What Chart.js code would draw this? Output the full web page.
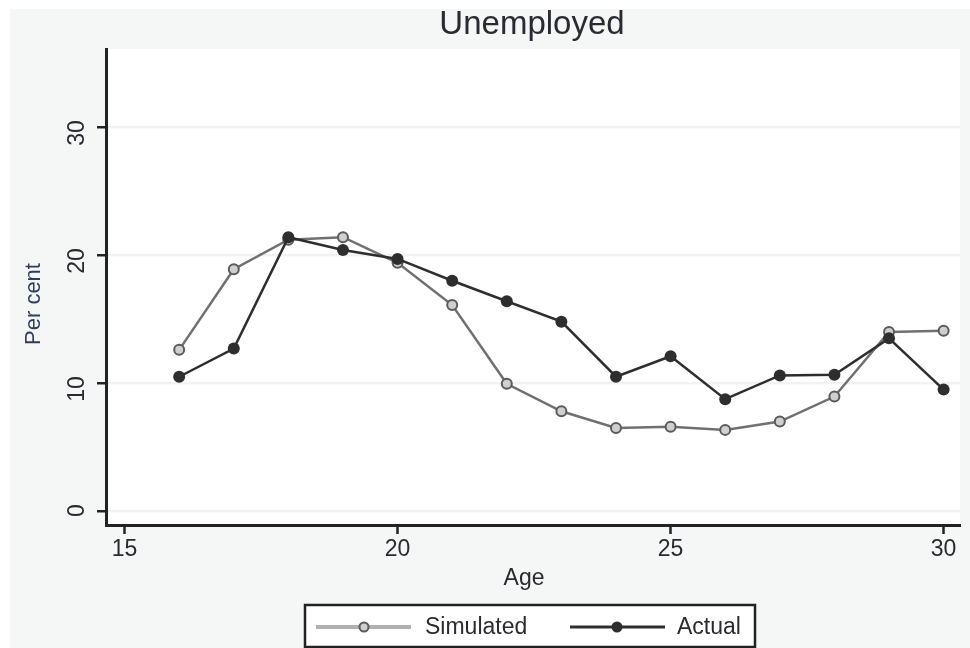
<!DOCTYPE html>
<html>
<head>
<meta charset="utf-8">
<title>Unemployed</title>
<script src="https://cdn.jsdelivr.net/npm/chart.js@4.4.1/dist/chart.umd.min.js"></script>
<style>
  html, body { margin: 0; padding: 0; background: #ffffff; }
  #wrap { width: 970px; height: 648px; }
</style>
</head>
<body>
<div id="wrap"><canvas id="unemployedChart" width="970" height="648"></canvas></div>
<script>
// data
const ages = [16, 17, 18, 19, 20, 21, 22, 23, 24, 25, 26, 27, 28, 29, 30];
const simulated = [12.6, 18.9, 21.2, 21.4, 19.4, 16.1, 9.95, 7.8, 6.5, 6.6, 6.35, 7.0, 8.95, 14.0, 14.1];
const actual = [10.5, 12.7, 21.4, 20.4, 19.7, 18.0, 16.4, 14.8, 10.5, 12.1, 8.75, 10.6, 10.65, 13.5, 9.5];
const xTicks = [15, 20, 25, 30];
const yTicks = [0, 10, 20, 30];

const fontFamily = "'Liberation Sans', Arial, sans-serif";
const bgGrey = '#f5f7f6';
const axisColor = '#222222';
const textColor = '#2a2a33';

const simLine = '#707070';
const simPoint = '#5a5a5a';
const actLine = '#2e2e2e';

function toXY(ys) {
  return ages.map((a, i) => ({x: a, y: ys[i]}));
}

// background panels, titles, rotated y labels and the legend box
const decorations = {
  id: 'decorations',
  beforeDraw(chart) {
    const ctx = chart.ctx;
    const area = chart.chartArea;
    ctx.save();
    ctx.fillStyle = '#ffffff';
    ctx.fillRect(0, 0, chart.width, chart.height);
    ctx.fillStyle = bgGrey;
    ctx.fillRect(10, 9, chart.width - 10, chart.height - 9);
    ctx.fillStyle = '#ffffff';
    ctx.fillRect(area.left, area.top, area.right - area.left, area.bottom - area.top);
    ctx.restore();
  },
  afterDraw(chart) {
    const ctx = chart.ctx;
    const yScale = chart.scales.y;
    ctx.save();
    ctx.fillStyle = textColor;

    // title
    ctx.font = `33px ${fontFamily}`;
    ctx.textAlign = 'center';
    ctx.textBaseline = 'alphabetic';
    ctx.fillText('Unemployed', 532, 34);

    // x axis title
    ctx.font = `23px ${fontFamily}`;
    ctx.fillText('Age', 524, 585);

    // y tick labels, rotated
    ctx.font = `23px ${fontFamily}`;
    ctx.textBaseline = 'middle';
    yScale.ticks.forEach(t => {
      const py = yScale.getPixelForValue(t.value);
      ctx.save();
      ctx.translate(78, py - 7);
      ctx.rotate(-Math.PI / 2);
      ctx.textAlign = 'right';
      ctx.fillText(String(t.value), 0, 0);
      ctx.restore();
    });

    // y axis title
    ctx.save();
    ctx.font = `22px ${fontFamily}`;
    ctx.fillStyle = '#2f3d5a';
    ctx.translate(34, 304);
    ctx.rotate(-Math.PI / 2);
    ctx.textAlign = 'center';
    ctx.fillText('Per cent', 0, 0);
    ctx.restore();

    // legend
    const ly = 627;
    ctx.fillStyle = '#ffffff';
    ctx.fillRect(305, 605, 450, 42);
    ctx.strokeStyle = axisColor;
    ctx.lineWidth = 2.5;
    ctx.strokeRect(305, 605, 450, 42);

    ctx.strokeStyle = '#b0b0b0';
    ctx.lineWidth = 4;
    ctx.beginPath();
    ctx.moveTo(316, ly);
    ctx.lineTo(411, ly);
    ctx.stroke();
    ctx.beginPath();
    ctx.arc(364, ly, 4.5, 0, Math.PI * 2);
    ctx.fillStyle = '#cfcfcf';
    ctx.fill();
    ctx.strokeStyle = simPoint;
    ctx.lineWidth = 2;
    ctx.stroke();

    ctx.strokeStyle = actLine;
    ctx.lineWidth = 3;
    ctx.beginPath();
    ctx.moveTo(570, ly);
    ctx.lineTo(665, ly);
    ctx.stroke();
    ctx.beginPath();
    ctx.arc(617, ly, 5.5, 0, Math.PI * 2);
    ctx.fillStyle = actLine;
    ctx.fill();

    ctx.fillStyle = textColor;
    ctx.font = `23px ${fontFamily}`;
    ctx.textAlign = 'left';
    ctx.textBaseline = 'middle';
    ctx.fillText('Simulated', 425, ly + 1);
    ctx.fillText('Actual', 677, ly + 1);
    ctx.restore();
  }
};

const ctx = document.getElementById('unemployedChart').getContext('2d');
const unemployedChart = new Chart(ctx, {
  type: 'line',
  data: {
    datasets: [
      {
        label: 'Simulated',
        data: toXY(simulated),
        borderColor: simLine,
        borderWidth: 2.5,
        pointRadius: 5,
        pointBorderWidth: 2,
        pointBorderColor: simPoint,
        pointBackgroundColor: '#cfcfcf',
        fill: false,
        tension: 0,
        order: 2
      },
      {
        label: 'Actual',
        data: toXY(actual),
        borderColor: actLine,
        borderWidth: 2.5,
        pointRadius: 6,
        pointBorderWidth: 0,
        pointBackgroundColor: actLine,
        fill: false,
        tension: 0,
        order: 1
      }
    ]
  },
  options: {
    responsive: false,
    devicePixelRatio: 1,
    animation: false,
    layout: {
      padding: {top: 49, right: 10, left: 0, bottom: 0}
    },
    plugins: {
      legend: {display: false},
      tooltip: {enabled: false},
      title: {display: false}
    },
    scales: {
      x: {
        type: 'linear',
        min: 14.66,
        max: 30.3,
        afterBuildTicks: scale => { scale.ticks = xTicks.map(v => ({value: v})); },
        afterFit: scale => { scale.height = 123; },
        ticks: {
          color: textColor,
          font: {family: fontFamily, size: 23},
          padding: 2,
          maxRotation: 0,
          minRotation: 0
        },
        grid: {
          drawOnChartArea: false,
          tickColor: axisColor,
          tickLength: 9,
          tickWidth: 2.5
        },
        border: {color: axisColor, width: 3}
      },
      y: {
        type: 'linear',
        min: -1.08,
        max: 36.1,
        afterBuildTicks: scale => { scale.ticks = yTicks.map(v => ({value: v})); },
        afterFit: scale => { scale.width = 106; },
        ticks: {display: false},
        grid: {
          color: '#f1f3f2',
          lineWidth: 2.5,
          tickColor: axisColor,
          tickLength: 9,
          tickWidth: 2.5
        },
        border: {color: axisColor, width: 3}
      }
    }
  },
  plugins: [decorations]
});
</script>
</body>
</html>
